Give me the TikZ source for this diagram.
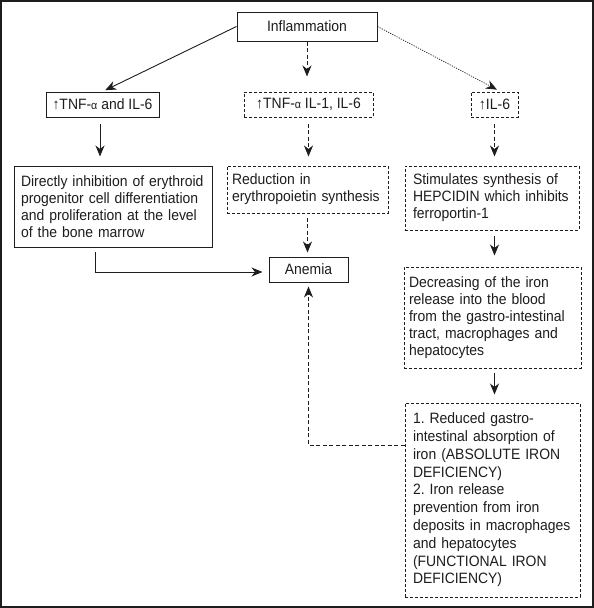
\documentclass[tikz,border=0pt]{standalone}
\usepackage{fontspec}
\setmainfont[FakeStretch=0.93]{Liberation Sans}
\usetikzlibrary{arrows.meta,calc}
\definecolor{ink}{RGB}{30,28,28}
\newcommand{\smalpha}{{\fontsize{11.5}{11.5}\selectfont α}}
\frenchspacing
\tikzset{
  every node/.style={font=\fontsize{15}{17}\selectfont\frenchspacing, text=ink},
  box/.style={draw=ink, line width=1pt, inner ysep=0pt, align=left},
  cbox/.style={box, align=center, inner xsep=0pt},
  dsh/.style={dash pattern=on 3pt off 2pt},
  conn/.style={draw=ink, line width=0.9pt, -{Stealth[length=11pt,width=9pt,inset=3.5pt]}},
  dconn/.style={conn, dash pattern=on 4pt off 2.5pt},
  tconn/.style={conn, line width=0.7pt, dash pattern=on 1.2pt off 1.2pt},
}
\begin{document}
\begin{tikzpicture}[x=1pt,y=-1pt]
\useasboundingbox (0,0) rectangle (594,608);
\draw[ink, line width=2pt] (1,1) rectangle (593,607);

\node[cbox, minimum width=140pt, minimum height=29pt] (infl) at (307,26.5) {Inflammation};
\node[cbox, minimum width=113pt, minimum height=25pt] (tnf1) at (102.5,104.5) {↑TNF-\smalpha{} and IL-6};
\node[cbox, dsh, minimum width=129pt, minimum height=25pt] (tnf2) at (308.5,104.5) {↑TNF-\smalpha{} IL-1, IL-6};
\node[cbox, dsh, minimum width=47pt, minimum height=25pt] (il6) at (494.5,104.5) {↑IL-6};

\node[box, minimum height=81pt, text width=184pt, inner xsep=7pt] (direct) at (113,206.5)
  {Directly inhibition of erythroid\\progenitor cell differentiation\\and proliferation at the level\\of the bone marrow};
\node[box, dsh, minimum height=47pt, text width=151pt, inner xsep=5pt] (reduc) at (307.5,189.5)
  {Reduction in\\erythropoietin synthesis};
\node[box, dsh, minimum height=64pt, text width=158pt, inner xsep=8pt] (stim) at (492,198)
  {Stimulates synthesis of\\HEPCIDIN which inhibits\\ferroportin-1};

\node[cbox, minimum width=79pt, minimum height=25pt] (anemia) at (308.5,269.5) {Anemia};

\node[box, dsh, minimum height=101pt, text width=167pt, inner xsep=5pt] (decr) at (492.5,317.5)
  {Decreasing of the iron\\release into the blood\\from the gastro-intestinal\\tract, macrophages and\\hepatocytes};
\node[box, dsh, minimum height=194pt, text width=159pt, inner xsep=8pt,
      font=\fontsize{15}{17.8}\selectfont\frenchspacing] (last) at (492.5,500)
  {1. Reduced gastro-\\intestinal absorption of\\iron (ABSOLUTE IRON\\DEFICIENCY)\\2. Iron release\\prevention from iron\\deposits in macrophages\\and hepatocytes\\(FUNCTIONAL IRON\\DEFICIENCY)};

\draw[conn, shorten >=3pt] (infl.west) -- (tnf1.north);
\draw[dconn, shorten >=15pt] (infl.south) -- (infl.south |- tnf2.north);
\draw[tconn, shorten >=4pt] (infl.east) -- ([xshift=6pt]il6.north);

\draw[conn, shorten <=6pt, shorten >=9pt] ([xshift=-2.5pt]tnf1.south) -- ([xshift=-2.5pt]tnf1.south |- direct.north);
\draw[dconn, shorten <=6pt, shorten >=9pt] (tnf2.south) -- (tnf2.south |- reduc.north);
\draw[dconn, shorten <=6pt, shorten >=9pt] (il6.south) -- (il6.south |- stim.north);

\draw[dconn, shorten <=4pt, shorten >=4pt] (reduc.south) -- (reduc.south |- anemia.north);
\draw[conn, shorten <=5pt, shorten >=11pt] (il6.south |- stim.south) -- (il6.south |- decr.north);
\draw[conn, shorten <=4pt, shorten >=8pt] (il6.south |- decr.south) -- (il6.south |- last.north);

\draw[conn, shorten <=4pt, shorten >=6pt] ([xshift=-18pt]direct.south) |- ([yshift=-2.5pt]anemia.west);
\draw[dconn, shorten >=4pt] ([yshift=55pt]last.west) -| (anemia.south);
\end{tikzpicture}
\end{document}
